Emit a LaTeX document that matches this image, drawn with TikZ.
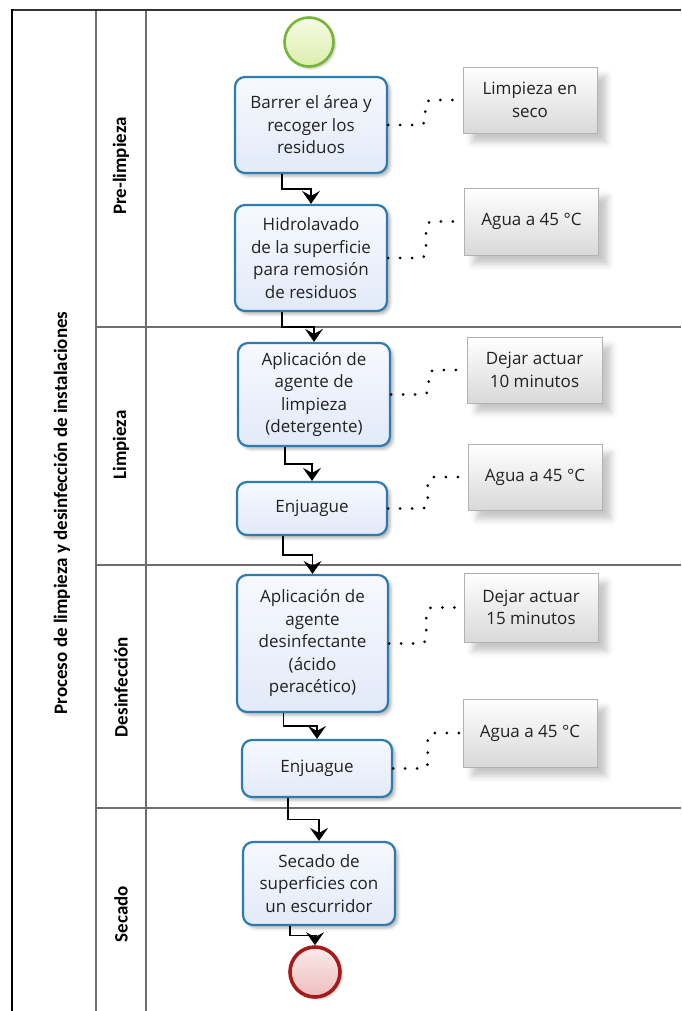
\documentclass[tikz,border=0pt]{standalone}
\usepackage{fontspec}
\setmainfont{Open Sans}
\newfontfamily\lanefont{Carlito}
\usetikzlibrary{arrows.meta,calc,shadows.blur,positioning}
\definecolor{taskline}{HTML}{2E7BB0}
\definecolor{tasktop}{HTML}{F7F9FE}
\definecolor{taskbot}{HTML}{E2E9F8}
\definecolor{startline}{HTML}{74B53A}
\definecolor{starttop}{HTML}{F6FBE4}
\definecolor{startbot}{HTML}{DCEEAE}
\definecolor{endline}{HTML}{A51A1A}
\definecolor{endtop}{HTML}{FCEAEA}
\definecolor{endbot}{HTML}{EDBDBD}
\definecolor{textgray}{HTML}{222222}
\definecolor{laneline}{HTML}{6E6E6E}
\begin{document}
\begin{tikzpicture}[x=1pt, y=-1pt,
  task/.style={rectangle, rounded corners=10pt, draw=taskline, line width=2.2pt, top color=tasktop, bottom color=taskbot, minimum width=152pt, align=center, text=textgray, font=\fontsize{17}{22.5}\selectfont, blur shadow={shadow xshift=3pt, shadow yshift=-3pt, shadow blur radius=3pt, shadow opacity=30}},
  note/.style={rectangle, draw=black!30, line width=0.8pt, top color=white, bottom color=black!15, minimum width=134pt, align=center, text=textgray, font=\fontsize{17}{22.5}\selectfont, blur shadow={shadow xshift=9pt, shadow yshift=-9pt, shadow blur radius=6pt, shadow opacity=22}},
  lanelabel/.style={rotate=90, text=black, font=\lanefont\bfseries\fontsize{19}{22}\selectfont},
  seqflow/.style={-{Stealth[length=13pt, width=18pt, inset=5pt]}, line width=1.2pt, to path={([xshift=-29pt]\tikztostart.south) |- ($(\tikztostart.south)!.5!(\tikztotarget.north)$) -| (\tikztotarget.north) \tikztonodes}},
  assoc/.style={line width=3pt, line cap=round, dash pattern=on 0pt off 12pt, rounded corners=6pt, to path={(\tikztostart.east) -| ($(\tikztostart.east)!.5!(\tikztotarget.west)$) |- (\tikztotarget.west) \tikztonodes}}]
  \useasboundingbox (0,0) rectangle (681,1011);

  \draw[laneline, line width=1.3pt] (96,10) -- (96,1011) (146,10) -- (146,1011);
  \draw[laneline, line width=1.3pt] (96,327) -- (681,327) (96,565) -- (681,565) (96,808) -- (681,808);
  \draw[black!80, line width=1.5pt] (12,10) -- (681,10);
  \draw[black, line width=2pt] (12,9.25) -- (12,1011);

  \node[lanelabel] (pool) at (62,513) {Proceso de limpieza y desinfección de instalaciones};
  \node[lanelabel] (lane1) at (121,166) {Pre-limpieza};
  \node[lanelabel] (lane2) at (121,445) {Limpieza};
  \node[lanelabel] (lane3) at (121,687) {Desinfección};
  \node[lanelabel] (lane4) at (121,914) {Secado};

  \node[circle, minimum size=49pt, draw=startline, line width=2.6pt, top color=starttop, bottom color=startbot, blur shadow={shadow xshift=2pt, shadow yshift=-2pt, shadow blur radius=2pt, shadow opacity=25}] (start) at (309,42) {};
  \node[task, minimum height=96pt] (t1) at (311,125) {Barrer el área y\\recoger los\\residuos};
  \node[task, minimum height=106pt] (t2) at (311,258) {Hidrolavado\\de la superficie\\para remosión\\de residuos};
  \node[task, minimum height=103pt] (t3) at (314,394.5) {Aplicación de\\agente de\\limpieza\\(detergente)};
  \node[task, minimum width=150pt, minimum height=53pt] (t4) at (312,508.5) {Enjuague};
  \node[task, minimum width=151pt, minimum height=137pt] (t5) at (312.5,643.5) {Aplicación de\\agente\\desinfectante\\(ácido\\peracético)};
  \node[task, minimum width=150pt, minimum height=57pt] (t6) at (317,768.5) {Enjuague};
  \node[task, minimum height=83pt] (t7) at (319,883.5) {Secado de\\superficies con\\un escurridor};
  \node[circle, minimum size=50pt, draw=endline, line width=3.6pt, top color=endtop, bottom color=endbot, blur shadow={shadow xshift=2pt, shadow yshift=-2pt, shadow blur radius=2pt, shadow opacity=25}] (end) at (315,972) {};

  \node[note, minimum height=66pt] (n1) at (530,100) {Limpieza en\\seco};
  \node[note, minimum height=67pt] (n2) at (531.5,221.5) {Agua a 45 °C};
  \node[note, minimum width=135pt, minimum height=66pt] (n3) at (534.5,370) {Dejar actuar\\10 minutos};
  \node[note, minimum height=66pt] (n4) at (535,477) {Agua a 45 °C};
  \node[note, minimum height=69pt] (n5) at (531,607.5) {Dejar actuar\\15 minutos};
  \node[note, minimum height=68pt] (n6) at (530,733) {Agua a 45 °C};

  \path (t1) edge[seqflow] (t2)
        (t2) edge[seqflow] (t3)
        (t3) edge[seqflow] (t4)
        (t4) edge[seqflow] (t5)
        (t5) edge[seqflow] (t6)
        (t6) edge[seqflow] (t7)
        (t7) edge[seqflow] (end);

  \path (t1) edge[assoc] (n1)
        (t2) edge[assoc] (n2)
        (t3) edge[assoc] (n3)
        (t4) edge[assoc] (n4)
        (t5) edge[assoc] (n5)
        (t6) edge[assoc] (n6);
\end{tikzpicture}
\end{document}
